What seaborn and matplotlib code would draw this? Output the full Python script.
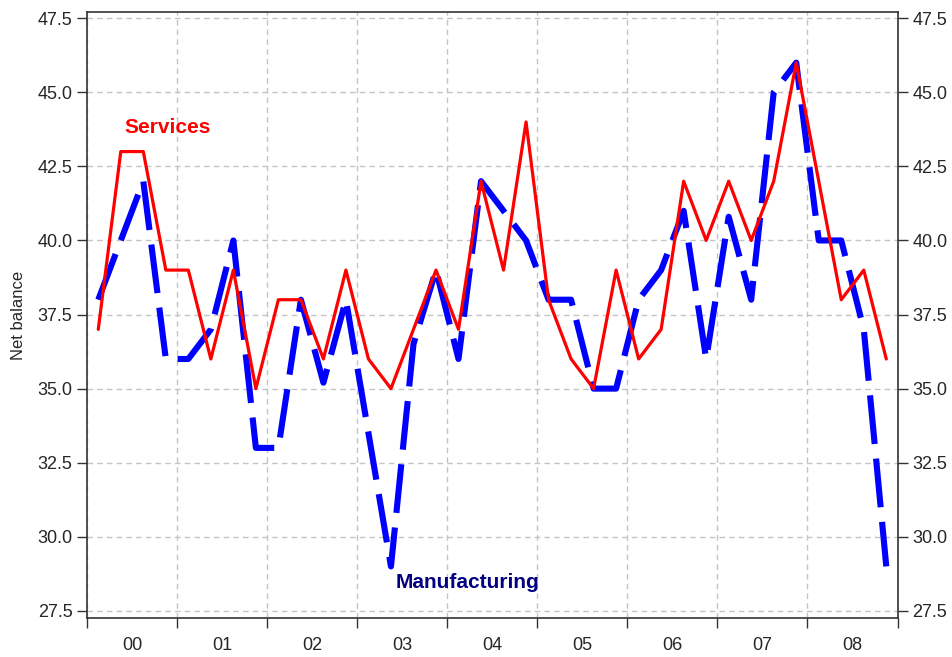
import numpy as np
import pandas as pd
import matplotlib
matplotlib.use("Agg")
import matplotlib.pyplot as plt
import seaborn as sns

# quarterly survey balances, 2000Q1 - 2008Q4
quarters = pd.period_range("2000Q1", "2008Q4", freq="Q")
services = [37, 43, 43, 39, 39, 36, 39, 35, 38, 38, 36, 39,
            36, 35, 37, 39, 37, 42, 39, 44, 38, 36, 35, 39,
            36, 37, 42, 40, 42, 40, 42, 46, 42, 38, 39, 36]
manufacturing = [38, 40, 42, 36, 36, 37, 40, 33, 33, 38, 35.2, 38,
                 33.5, 29, 36.5, 39, 36, 42, 41, 40, 38, 38, 35, 35,
                 38, 39, 41, 36, 40.8, 38, 45, 46, 40, 40, 37, 29]
years = list(range(2000, 2009))
year_labels = ["00", "01", "02", "03", "04", "05", "06", "07", "08"]
y_ticks = [27.5, 30.0, 32.5, 35.0, 37.5, 40.0, 42.5, 45.0, 47.5]

df = pd.DataFrame({
    "x": quarters.year + (quarters.quarter - 0.5) / 4,
    "Services": services,
    "Manufacturing": manufacturing,
})

sns.set_style("white")
plt.rcParams["font.family"] = ["Liberation Sans", "DejaVu Sans"]

fig = plt.figure(figsize=(9.52, 6.57), dpi=100)
ax = fig.add_axes([0.0914, 0.0594, 0.8514, 0.9219])

sns.lineplot(data=df, x="x", y="Manufacturing", ax=ax, color="#0000ff",
             linewidth=4.4, dashes=False)
ax.lines[-1].set_dashes((8, 2.4))
ax.lines[-1].set_solid_joinstyle("miter")
sns.lineplot(data=df, x="x", y="Services", ax=ax, color="#ff0000",
             linewidth=2.3)

ax.set_xlim(2000, 2009)
ax.set_ylim(27.26, 47.7)

ax.set_xticks(years + [2009])
ax.set_xticklabels([])
ax.set_xticks([y + 0.5 for y in years], minor=True)
ax.set_xticklabels(year_labels, minor=True, fontsize=13)
ax.tick_params(axis="x", which="major", direction="out", length=7, width=1, color="#333333", bottom=True)
ax.tick_params(axis="x", which="minor", length=0, pad=14)

ax.set_yticks(y_ticks)
ax.set_yticklabels([f"{v:.1f}" for v in y_ticks])
ax.tick_params(axis="y", which="major", direction="out", length=7, width=1,
               color="#333333", labelsize=13, left=True, right=True,
               labelleft=True, labelright=True)

ax.grid(True, which="major", color="#c4c4c4", linestyle=(0, (4, 3)), linewidth=1)
for s in ax.spines.values():
    s.set_visible(True)
    s.set_color("#333333")
    s.set_linewidth(1.2)

ax.set_xlabel("")
ax.set_ylabel("Net balance", fontsize=12, labelpad=8)

ax.text(2000.9, 43.8, "Services", color="#ff0000", fontsize=15,
        fontweight="bold", ha="center", va="center")
ax.text(2004.22, 28.45, "Manufacturing", color="#000080", fontsize=15,
        fontweight="bold", ha="center", va="center")

fig.savefig("out.png", dpi=100)
